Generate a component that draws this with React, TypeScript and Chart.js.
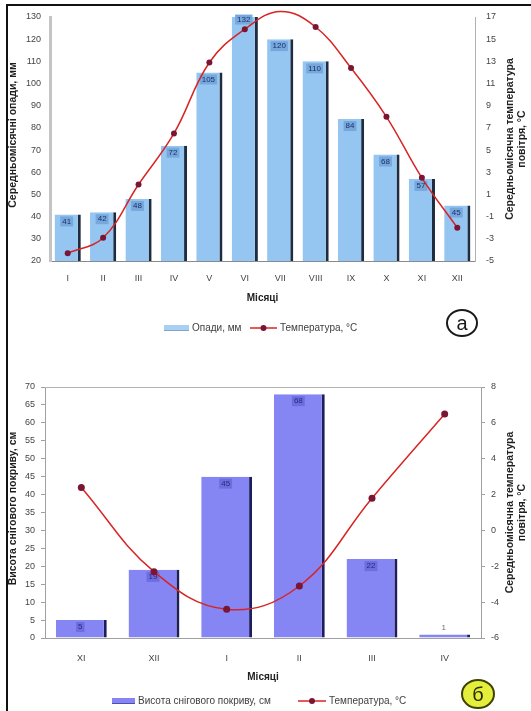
import React, { useEffect, useRef } from 'react';
import { Chart, registerables } from 'chart.js';
Chart.register(...registerables);

const FONT = '"Liberation Sans", Arial, sans-serif';

// Chart а — monthly precipitation and temperature
const monthsA = ['I', 'II', 'III', 'IV', 'V', 'VI', 'VII', 'VIII', 'IX', 'X', 'XI', 'XII'];
const precipA = [41, 42, 48, 72, 105, 132, 120, 110, 84, 68, 57, 45];
const tempA = [-4.3, -2.9, 1.9, 6.5, 12.9, 15.9, 17.5, 16.1, 12.4, 8.0, 2.5, -2.0];

// Chart б — snow cover height and temperature
const monthsB = ['XI', 'XII', 'I', 'II', 'III', 'IV'];
const snowB = [5, 19, 45, 68, 22, 1];
const tempB = [2.4, -2.3, -4.4, -3.1, 1.8, 6.5];

type Decor = {
  id: string;
  leftTitle: string[];
  leftX: number;
  rightTitle: string[];
  rightX: number;
  legendY: number;
  swatchX: number;
  swatchW: number;
  swatchColor: string;
  swatchEdge: string;
  text1: string;
  lineX: number;
  lineW: number;
  text2: string;
  circle: { x: number; y: number; rx: number; ry: number; fill: string; stroke: string; letter: string; color: string };
  labelBox: string;
  labelColor: string;
  labelSize: number;
  frame: boolean;
};

function drawRotated(ctx: CanvasRenderingContext2D, lines: string[], cx: number, cy: number, lh: number, font: string, color: string) {
  ctx.save();
  ctx.translate(cx, cy);
  ctx.rotate(-Math.PI / 2);
  ctx.font = font;
  ctx.fillStyle = color;
  ctx.textAlign = 'center';
  ctx.textBaseline = 'middle';
  lines.forEach((ln, i) => ctx.fillText(ln, 0, (i - (lines.length - 1) / 2) * lh));
  ctx.restore();
}

function decorPlugin(d: Decor) {
  return {
    id: 'decor_' + d.id,
    beforeDatasetsDraw(chart: any) {
      if (!d.frame) return;
      const { ctx, chartArea: a } = chart;
      ctx.save();
      ctx.strokeStyle = '#b4b4b4';
      ctx.lineWidth = 1;
      ctx.beginPath();
      ctx.moveTo(a.left, a.top + 0.5);
      ctx.lineTo(a.right, a.top + 0.5);
      ctx.stroke();
      ctx.restore();
    },
    afterDatasetDraw(chart: any, args: any) {
      if (args.meta.type !== 'bar') return;
      const ctx = chart.ctx as CanvasRenderingContext2D;
      const ds = chart.data.datasets[args.index];
      ctx.save();
      ctx.font = `${d.labelSize}px ${FONT}`;
      ctx.textAlign = 'center';
      ctx.textBaseline = 'middle';
      args.meta.data.forEach((el: any, i: number) => {
        const txt = String(ds.data[i]);
        const h = el.base - el.y;
        const w = ctx.measureText(txt).width;
        const cx = el.x - 1;
        if (h < 12) {
          ctx.fillStyle = '#707070';
          ctx.fillText(txt, cx, el.y - 7);
        } else {
          const cy = el.y + 7;
          ctx.fillStyle = d.labelBox;
          ctx.fillRect(cx - w / 2 - 2, cy - 5, w + 4, 10);
          ctx.fillStyle = d.labelColor;
          ctx.fillText(txt, cx, cy);
        }
      });
      ctx.restore();
    },
    afterDraw(chart: any) {
      const ctx = chart.ctx as CanvasRenderingContext2D;
      const a = chart.chartArea;
      const cy = (a.top + a.bottom) / 2;
      drawRotated(ctx, d.leftTitle, d.leftX, cy - 4, 12, `bold 10.5px ${FONT}`, '#1e1e1e');
      drawRotated(ctx, d.rightTitle, d.rightX, cy, 12, `bold 10.5px ${FONT}`, '#1e1e1e');

      // legend
      const ly = d.legendY;
      ctx.save();
      ctx.fillStyle = d.swatchColor;
      ctx.fillRect(d.swatchX, ly - 3, d.swatchW, 6);
      ctx.fillStyle = d.swatchEdge;
      ctx.fillRect(d.swatchX, ly + 2, d.swatchW, 1);
      ctx.font = `10px ${FONT}`;
      ctx.fillStyle = '#404040';
      ctx.textAlign = 'left';
      ctx.textBaseline = 'middle';
      ctx.fillText(d.text1, d.swatchX + d.swatchW + 3, ly);
      ctx.strokeStyle = '#d82424';
      ctx.lineWidth = 1.5;
      ctx.beginPath();
      ctx.moveTo(d.lineX, ly);
      ctx.lineTo(d.lineX + d.lineW, ly);
      ctx.stroke();
      ctx.fillStyle = '#7a1533';
      ctx.beginPath();
      ctx.arc(d.lineX + d.lineW / 2, ly, 3, 0, Math.PI * 2);
      ctx.fill();
      ctx.fillStyle = '#404040';
      ctx.fillText(d.text2, d.lineX + d.lineW + 3, ly);

      // circled letter
      const c = d.circle;
      ctx.beginPath();
      ctx.ellipse(c.x, c.y, c.rx, c.ry, 0, 0, Math.PI * 2);
      ctx.fillStyle = c.fill;
      ctx.fill();
      ctx.lineWidth = 2;
      ctx.strokeStyle = c.stroke;
      ctx.stroke();
      ctx.font = `20px ${FONT}`;
      ctx.fillStyle = c.color;
      ctx.textAlign = 'center';
      ctx.textBaseline = 'middle';
      ctx.fillText(c.letter, c.x, c.y + 1);
      ctx.restore();
    },
  };
}

function ChartA() {
  const ref = useRef<HTMLCanvasElement>(null);
  useEffect(() => {
    if (!ref.current) return;
    const tickFont = { size: 9, family: FONT };
    const chart = new Chart(ref.current, {
      type: 'bar',
      data: {
        labels: monthsA,
        datasets: [
          {
            type: 'bar',
            label: 'Опади, мм',
            data: precipA,
            yAxisID: 'y',
            backgroundColor: '#95c6f2',
            borderColor: '#1f2c40',
            borderWidth: { top: 0, right: 3, left: 0, bottom: 0 } as any,
            borderSkipped: false,
            barPercentage: 0.74,
            categoryPercentage: 1,
            order: 1,
          },
          {
            type: 'line',
            label: 'Температура, °С',
            data: tempA,
            yAxisID: 'y2',
            borderColor: '#d82424',
            borderWidth: 1.5,
            tension: 0.4,
            pointRadius: 3,
            pointBackgroundColor: '#7a1533',
            pointBorderColor: '#7a1533',
            pointBorderWidth: 0,
            clip: false,
            order: 0,
          },
        ] as any,
      },
      options: {
        animation: false,
        responsive: false,
        layout: { padding: { left: 0, right: 0, top: 17, bottom: 39 } },
        plugins: { legend: { display: false }, tooltip: { enabled: false } },
        scales: {
          x: {
            offset: true,
            grid: { display: false, drawTicks: false },
            border: { display: true, color: '#8a8a8a', width: 1 },
            ticks: { padding: 12, font: tickFont, color: '#444' },
            title: {
              display: true,
              text: 'Місяці',
              font: { size: 10, weight: 'bold', family: FONT },
              color: '#222',
              padding: { top: 0, bottom: 2 },
            },
            afterFit: (s: any) => {
              s.height = 45;
            },
          },
          y: {
            position: 'left',
            min: 20,
            max: 130,
            ticks: { stepSize: 10, padding: 9, font: tickFont, color: '#444' },
            grid: { display: false, drawTicks: false },
            border: { display: true, color: '#c4c4c4', width: 3 },
            afterFit: (s: any) => {
              s.width = 50;
            },
          },
          y2: {
            position: 'right',
            min: -5,
            max: 17,
            ticks: { stepSize: 2, padding: 11, font: tickFont, color: '#444' },
            grid: { display: false, drawTicks: false },
            border: { display: true, color: '#b0b0b0', width: 1 },
            afterFit: (s: any) => {
              s.width = 56;
            },
          },
        } as any,
      },
      plugins: [
        decorPlugin({
          id: 'a',
          leftTitle: ['Середньомісячні опади, мм'],
          leftX: 13,
          rightTitle: ['Середньомісячна температура', 'повітря, °С'],
          rightX: 516,
          legendY: 328,
          swatchX: 164,
          swatchW: 25,
          swatchColor: '#a9cff2',
          swatchEdge: '#7aa6d4',
          text1: 'Опади, мм',
          lineX: 250,
          lineW: 27,
          text2: 'Температура, °С',
          circle: { x: 462, y: 323, rx: 15, ry: 13, fill: '#ffffff', stroke: '#1a1a1a', letter: 'а', color: '#1a1a1a' },
          labelBox: '#76a8dc',
          labelColor: '#1d2f6a',
          labelSize: 8,
          frame: false,
        }) as any,
      ],
    });
    return () => chart.destroy();
  }, []);
  return <canvas ref={ref} width={531} height={345} style={{ position: 'absolute', left: 0, top: 0, width: 531, height: 345, display: 'block' }} />;
}

function ChartB() {
  const ref = useRef<HTMLCanvasElement>(null);
  useEffect(() => {
    if (!ref.current) return;
    const tickFont = { size: 9, family: FONT };
    const chart = new Chart(ref.current, {
      type: 'bar',
      data: {
        labels: monthsB,
        datasets: [
          {
            type: 'bar',
            label: 'Висота снігового покриву, см',
            data: snowB,
            yAxisID: 'y',
            backgroundColor: '#8585f3',
            borderColor: '#1e1e5c',
            borderWidth: { top: 0, right: 3, left: 0, bottom: 0 } as any,
            borderSkipped: false,
            barPercentage: 0.7,
            categoryPercentage: 1,
            order: 1,
          },
          {
            type: 'line',
            label: 'Температура, °С',
            data: tempB,
            yAxisID: 'y2',
            borderColor: '#d82424',
            borderWidth: 1.5,
            tension: 0.4,
            pointRadius: 3.5,
            pointBackgroundColor: '#7a1533',
            pointBorderColor: '#7a1533',
            pointBorderWidth: 0,
            clip: false,
            order: 0,
          },
        ] as any,
      },
      options: {
        animation: false,
        responsive: false,
        layout: { padding: { left: 0, right: 0, top: 42, bottom: 27 } },
        plugins: { legend: { display: false }, tooltip: { enabled: false } },
        scales: {
          x: {
            offset: true,
            grid: { display: false, drawTicks: false },
            border: { display: true, color: '#a0a0a0', width: 1 },
            ticks: { padding: 15, font: tickFont, color: '#444' },
            title: {
              display: true,
              text: 'Місяці',
              font: { size: 10, weight: 'bold', family: FONT },
              color: '#222',
              padding: { top: 0, bottom: 1 },
            },
            afterFit: (s: any) => {
              s.height = 46;
            },
          },
          y: {
            position: 'left',
            min: 0,
            max: 70,
            ticks: { stepSize: 5, padding: 6, font: tickFont, color: '#444' },
            grid: { display: true, drawOnChartArea: false, drawTicks: true, tickLength: 4, color: '#a0a0a0' },
            border: { display: true, color: '#a0a0a0', width: 1 },
            afterFit: (s: any) => {
              s.width = 45;
            },
          },
          y2: {
            position: 'right',
            min: -6,
            max: 8,
            ticks: { stepSize: 2, padding: 6, font: tickFont, color: '#444' },
            grid: { display: true, drawOnChartArea: false, drawTicks: true, tickLength: 4, color: '#a0a0a0' },
            border: { display: true, color: '#a0a0a0', width: 1 },
            afterFit: (s: any) => {
              s.width = 50;
            },
          },
        } as any,
      },
      plugins: [
        decorPlugin({
          id: 'b',
          leftTitle: ['Висота снігового покриву, см'],
          leftX: 13,
          rightTitle: ['Середньомісячна температура', 'повітря, °С'],
          rightX: 516,
          legendY: 356,
          swatchX: 112,
          swatchW: 23,
          swatchColor: '#8585f3',
          swatchEdge: '#5050b0',
          text1: 'Висота снігового покриву, см',
          lineX: 298,
          lineW: 28,
          text2: 'Температура, °С',
          circle: { x: 478, y: 349, rx: 16, ry: 14, fill: '#e4ee3c', stroke: '#3e4200', letter: 'б', color: '#2a2a00' },
          labelBox: '#6d6de0',
          labelColor: '#2a2a7a',
          labelSize: 8,
          frame: true,
        }) as any,
      ],
    });
    return () => chart.destroy();
  }, []);
  return <canvas ref={ref} width={531} height={366} style={{ position: 'absolute', left: 0, top: 345, width: 531, height: 366, display: 'block' }} />;
}

export default function App() {
  return (
    <div style={{ position: 'absolute', left: 0, top: 0, width: 531, height: 711, background: '#ffffff', overflow: 'hidden' }}>
      <ChartA />
      <ChartB />
      <div
        style={{
          position: 'absolute',
          left: 6,
          top: 4,
          width: 531,
          height: 720,
          borderLeft: '2px solid #111',
          borderTop: '2px solid #111',
          boxSizing: 'border-box',
          pointerEvents: 'none',
        }}
      />
    </div>
  );
}
